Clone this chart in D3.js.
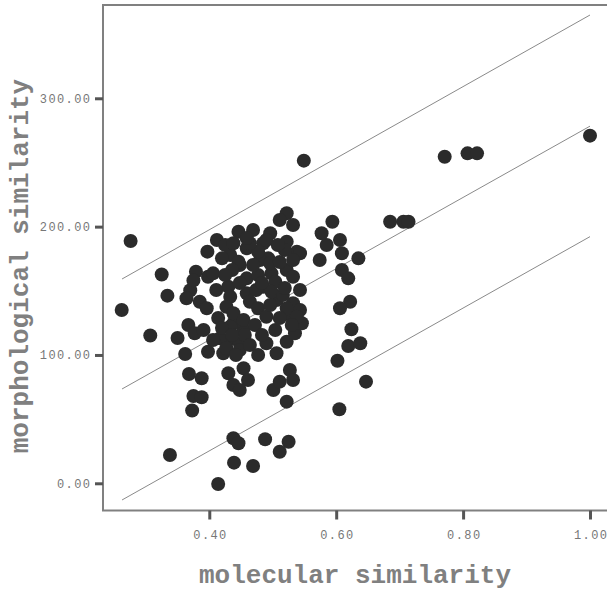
<!DOCTYPE html>
<html>
<head>
<meta charset="utf-8">
<script src="https://cdn.jsdelivr.net/npm/d3@7"></script>
<style>
  html, body { margin: 0; padding: 0; background: #fff; }
  svg { display: block; }
</style>
</head>
<body>
<svg id="chart" width="607" height="591"></svg>
<script>
// molecular similarity (x) and morphological similarity (y)
const molecular = [
  0.262, 0.276, 0.325, 0.334, 0.307, 0.350, 0.362, 0.368, 0.375, 0.373,
  0.338, 0.414, 0.439, 0.469, 0.438, 0.446, 0.488, 0.525, 0.511, 0.549,
  0.522, 0.605, 0.647, 0.602, 0.619, 0.638, 0.624, 0.622, 0.606, 0.609,
  0.619, 0.635, 0.609, 0.606, 0.585, 0.577, 0.594, 0.574, 0.685, 0.706,
  0.714, 0.771, 0.807, 0.822, 1.000,
  0.388, 0.388, 0.367, 0.377, 0.398, 0.422, 0.430, 0.448, 0.454, 0.430,
  0.454, 0.438, 0.461, 0.448, 0.501, 0.511, 0.527, 0.532, 0.490, 0.504,
  0.506, 0.522, 0.535, 0.546, 0.438, 0.530,
  0.522, 0.511, 0.532, 0.446, 0.469, 0.412, 0.397, 0.425, 0.433, 0.420,
  0.448, 0.459, 0.485, 0.496, 0.490, 0.522, 0.538, 0.519, 0.493, 0.480,
  0.477, 0.498, 0.522, 0.532, 0.379, 0.398, 0.406, 0.370, 0.364, 0.385,
  0.396, 0.430, 0.433, 0.427, 0.459, 0.485, 0.506, 0.532, 0.543, 0.446,
  0.496, 0.459, 0.477, 0.504, 0.464, 0.438, 0.433, 0.454, 0.477, 0.490,
  0.522, 0.538, 0.530, 0.391, 0.417, 0.427, 0.448, 0.456, 0.543, 0.464,
  0.438, 0.498, 0.375,
  0.472, 0.483, 0.464, 0.477, 0.496, 0.511, 0.516, 0.474, 0.414, 0.420,
  0.406, 0.442, 0.436, 0.436, 0.469, 0.483, 0.511, 0.508, 0.532, 0.459,
  0.425, 0.411, 0.448, 0.543, 0.519
];
const morphological = [
  135.0, 188.8, 162.7, 146.2, 115.2, 113.2, 100.8, 85.2, 68.0, 56.7,
  22.1, -0.5, 16.1, 13.5, 35.1, 31.2, 34.3, 32.4, 24.6, 251.4,
  63.6, 57.7, 79.2, 95.5, 107.0, 109.1, 120.0, 141.5, 136.4, 166.2,
  159.7, 175.3, 179.2, 189.6, 185.7, 194.8, 203.8, 174.0, 203.8, 203.8,
  203.8, 254.5, 257.1, 257.1, 270.9,
  81.8, 67.0, 123.3, 116.9, 102.5, 101.3, 111.7, 109.1, 119.4, 85.7,
  89.6, 76.6, 80.5, 72.7, 72.7, 79.2, 88.3, 80.5, 109.1, 119.4,
  101.3, 110.3, 116.9, 124.7, 124.7, 129.8,
  210.4, 205.2, 201.3, 196.0, 197.4, 189.6, 180.5, 185.7, 177.9, 175.3,
  170.1, 183.1, 187.0, 194.8, 189.6, 188.3, 180.5, 181.8, 175.3, 174.0,
  180.5, 163.6, 166.2, 161.0, 164.9, 161.0, 163.6, 150.4, 144.2, 141.5,
  136.4, 153.2, 145.4, 137.6, 148.0, 153.2, 142.8, 140.3, 135.0, 172.7,
  171.4, 159.7, 162.3, 157.1, 141.5, 132.5, 122.0, 127.2, 136.4, 129.8,
  136.4, 129.8, 123.3, 119.4, 113.0, 105.2, 103.9, 115.6, 179.2, 187.0,
  187.0, 149.3, 158.1,
  123.3, 115.6, 107.8, 100.0, 138.9, 128.8, 146.7, 150.6, 128.8, 121.0,
  111.7, 100.0, 115.6, 166.2, 170.1, 156.1, 172.4, 185.7, 174.0, 191.1,
  162.3, 150.6, 156.1, 150.6, 152.2
];

// reference lines (fit and the two parallel bands), endpoints at the data x range
const lineX = [0.2625, 1.0];
const upperLine = [159.2, 364.9];
const fitLine = [73.5, 278.3];
const lowerLine = [-13.0, 192.2];

const xTicks = [0.4, 0.6, 0.8, 1.0];
const yTicks = [0, 100, 200, 300];
const xTitle = "molecular similarity";
const yTitle = "morphological similarity";

const svg = d3.select("#chart");
const plotLeft = 103, plotTop = 5, plotBottom = 510.5, plotRight = 620;

const x = d3.scaleLinear().domain([0.2325, 1.0]).range([plotLeft, 590]);
const y = d3.scaleLinear().domain([-21.2, 372.7]).range([plotBottom, plotTop]);

// frame
svg.append("rect")
  .attr("x", plotLeft).attr("y", plotTop)
  .attr("width", plotRight - plotLeft).attr("height", plotBottom - plotTop)
  .attr("fill", "none").attr("stroke", "#808080").attr("stroke-width", 2);

// lines
const lineGen = d3.line().x(d => x(d[0])).y(d => y(d[1]));
[upperLine, fitLine, lowerLine].forEach(L => {
  svg.append("path")
    .attr("d", lineGen(lineX.map((v, i) => [v, L[i]])))
    .attr("fill", "none").attr("stroke", "#8a8a8a").attr("stroke-width", 1);
});

// points
const pts = molecular.map((m, i) => [m, morphological[i]]);
svg.append("g").selectAll("circle").data(pts).join("circle")
  .attr("cx", d => x(d[0])).attr("cy", d => y(d[1]))
  .attr("r", 7).attr("fill", "#2b2b2b");

// axes
const fontTick = "'Liberation Mono', 'DejaVu Sans Mono', monospace";
const yAxis = d3.axisLeft(y).tickValues(yTicks).tickFormat(d3.format(".2f"))
  .tickSize(8).tickPadding(5);
const gy = svg.append("g").attr("transform", `translate(${plotLeft},0)`).call(yAxis);
const xAxis = d3.axisBottom(x).tickValues(xTicks).tickFormat(d3.format(".2f"))
  .tickSize(9).tickPadding(11);
const gx = svg.append("g").attr("transform", `translate(0,${plotBottom})`).call(xAxis);

[gx, gy].forEach(g => {
  g.select(".domain").remove();
  g.selectAll(".tick line").attr("stroke", "#555").attr("stroke-width", 3);
  g.selectAll(".tick text")
    .attr("fill", "#777777")
    .style("font-family", fontTick)
    .style("font-size", "12px")
    .style("letter-spacing", "1.4px");
});
gy.selectAll(".tick text").attr("dx", "1.4px");
gx.selectAll(".tick text").attr("dx", "0.7px");

// titles
const fontTitle = "'Liberation Mono', 'Courier New', monospace";
svg.append("text")
  .attr("x", 355).attr("y", 583)
  .attr("text-anchor", "middle")
  .attr("fill", "#808080")
  .style("font-family", fontTitle).style("font-weight", "bold").style("font-size", "26px")
  .text(xTitle);
svg.append("text")
  .attr("transform", "translate(28,266) rotate(-90)")
  .attr("text-anchor", "middle")
  .attr("fill", "#808080")
  .style("font-family", fontTitle).style("font-weight", "bold").style("font-size", "26px")
  .text(yTitle);
</script>
</body>
</html>
